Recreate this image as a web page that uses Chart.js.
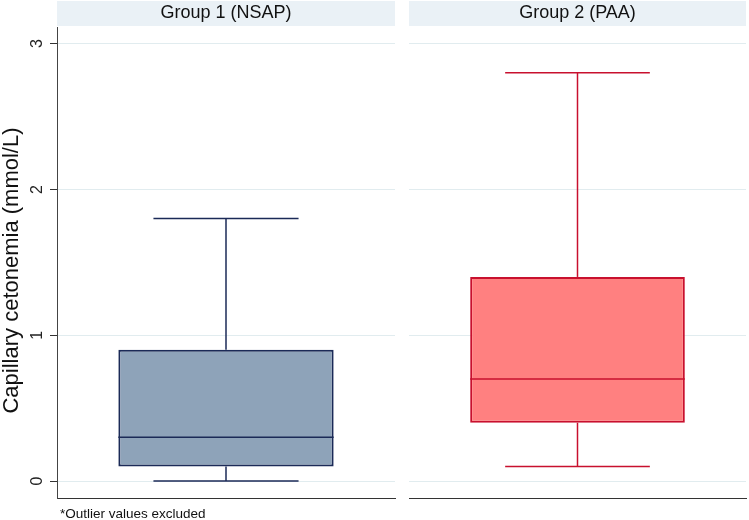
<!DOCTYPE html>
<html>
<head>
<meta charset="utf-8">
<script src="https://cdn.jsdelivr.net/npm/chart.js@4.4.1/dist/chart.umd.min.js"></script>
<style>
    body { margin: 0; background: #fff; }
    #wrap { position: relative; width: 749px; height: 520px; background: #fff; overflow: hidden; }
    canvas { position: absolute; top: 0; }
    #note {
        position: absolute; left: 60px; top: 506px;
        font: 13.5px 'Liberation Sans', Arial, sans-serif; color: #111;
    }
</style>
</head>
<body>
<div id="wrap">
    <canvas id="panel1" width="396" height="520" style="left:0"></canvas>
    <canvas id="panel2" width="349" height="520" style="left:400px"></canvas>
    <div id="note">*Outlier values excluded</div>
</div>
<script>
// Box plot summary per group (outliers excluded)
const groups = ['Group 1 (NSAP)', 'Group 2 (PAA)'];
const mins = [0, 0.1];
const q1s = [0.1, 0.4];
const medians = [0.3, 0.7];
const q3s = [0.9, 1.4];
const maxs = [1.8, 2.8];
const yTicks = [0, 1, 2, 3];
const yTitle = 'Capillary cetonemia (mmol/L)';

const fills = ['#8ea3b9', '#ff8080'];
const lines = ['#1b2a57', '#c8102e'];
const gridColor = '#e1ecef';
const stripColor = '#eaf1f6';

Chart.defaults.font.family = "'Liberation Sans', Arial, sans-serif";
Chart.defaults.color = '#111';

// header strip behind the panel title
const stripPlugin = {
    id: 'strip',
    beforeDraw(chart) {
        const { ctx, chartArea } = chart;
        ctx.save();
        ctx.fillStyle = stripColor;
        ctx.fillRect(chartArea.left, 1, chartArea.right - chartArea.left, 25);
        ctx.restore();
    }
};

// y axis title, Stata puts it a bit lower than the plot centre
const yLabelPlugin = {
    id: 'yLabel',
    afterDraw(chart, args, opts) {
        if (!opts.show) return;
        const ctx = chart.ctx;
        ctx.save();
        ctx.translate(12, 270.5);
        ctx.rotate(-Math.PI / 2);
        ctx.font = "22px 'Liberation Sans', Arial, sans-serif";
        ctx.fillStyle = '#111';
        ctx.textAlign = 'center';
        ctx.textBaseline = 'middle';
        ctx.fillText(yTitle, 0, 0);
        ctx.restore();
    }
};

// median line + whiskers on top of the floating bar
const whiskerPlugin = {
    id: 'whiskers',
    afterDatasetsDraw(chart, args, opts) {
        const i = opts.index;
        const y = chart.scales.y;
        const bar = chart.getDatasetMeta(0).data[0];
        const half = bar.width / 2;
        const cap = bar.width * 0.337;
        const ctx = chart.ctx;
        ctx.save();
        ctx.strokeStyle = lines[i];
        ctx.lineWidth = 1.5;
        const seg = (x1, y1, x2, y2) => {
            ctx.beginPath();
            ctx.moveTo(x1, y1);
            ctx.lineTo(x2, y2);
            ctx.stroke();
        };
        const yMed = y.getPixelForValue(medians[i]);
        const yMin = y.getPixelForValue(mins[i]);
        const yMax = y.getPixelForValue(maxs[i]);
        const yQ1 = y.getPixelForValue(q1s[i]);
        const yQ3 = y.getPixelForValue(q3s[i]);
        seg(bar.x - half, yMed, bar.x + half, yMed);
        seg(bar.x, yQ3, bar.x, yMax);
        seg(bar.x, yQ1, bar.x, yMin);
        seg(bar.x - cap, yMax, bar.x + cap, yMax);
        seg(bar.x - cap, yMin, bar.x + cap, yMin);
        ctx.restore();
    }
};

function makePanel(canvasId, i, showAxis) {
    const ctx = document.getElementById(canvasId).getContext('2d');
    return new Chart(ctx, {
        type: 'bar',
        data: {
            labels: [groups[i]],
            datasets: [{
                data: [[q1s[i], q3s[i]]],
                backgroundColor: fills[i],
                borderColor: lines[i],
                borderWidth: 2,
                borderSkipped: false,
                barPercentage: 0.637,
                categoryPercentage: 1
            }]
        },
        options: {
            responsive: false,
            animation: false,
            devicePixelRatio: 1,
            layout: {
                padding: showAxis
                    ? { left: 0, right: 1, top: 0, bottom: 22 }
                    : { left: 9, right: 3, top: 0, bottom: 22 }
            },
            scales: {
                x: {
                    ticks: { display: false },
                    grid: { display: false, drawTicks: false },
                    border: { display: true, color: '#333', width: 1 },
                    afterFit: s => { s.height = 0; }
                },
                y: {
                    min: -0.116,
                    max: 3.11,
                    afterBuildTicks: s => { s.ticks = yTicks.map(v => ({ value: v })); },
                    afterFit: s => { s.width = showAxis ? 57 : 0; },
                    ticks: {
                        display: showAxis,
                        font: { size: 16 },
                        color: '#222',
                        minRotation: 90,
                        maxRotation: 90,
                        crossAlign: 'center',
                        padding: 8
                    },
                    grid: {
                        color: gridColor,
                        lineWidth: 1,
                        drawTicks: showAxis,
                        tickLength: 7,
                        tickColor: '#333'
                    },
                    border: { display: showAxis, color: '#444', width: 1 }
                }
            },
            plugins: {
                legend: { display: false },
                tooltip: { enabled: false },
                title: {
                    display: true,
                    text: groups[i],
                    fullSize: false,
                    font: { size: 18, weight: 'normal' },
                    color: '#111',
                    padding: { top: 2, bottom: 4 }
                },
                whiskers: { index: i },
                yLabel: { show: showAxis }
            }
        },
        plugins: [stripPlugin, whiskerPlugin, yLabelPlugin]
    });
}

makePanel('panel1', 0, true);
makePanel('panel2', 1, false);
</script>
</body>
</html>
